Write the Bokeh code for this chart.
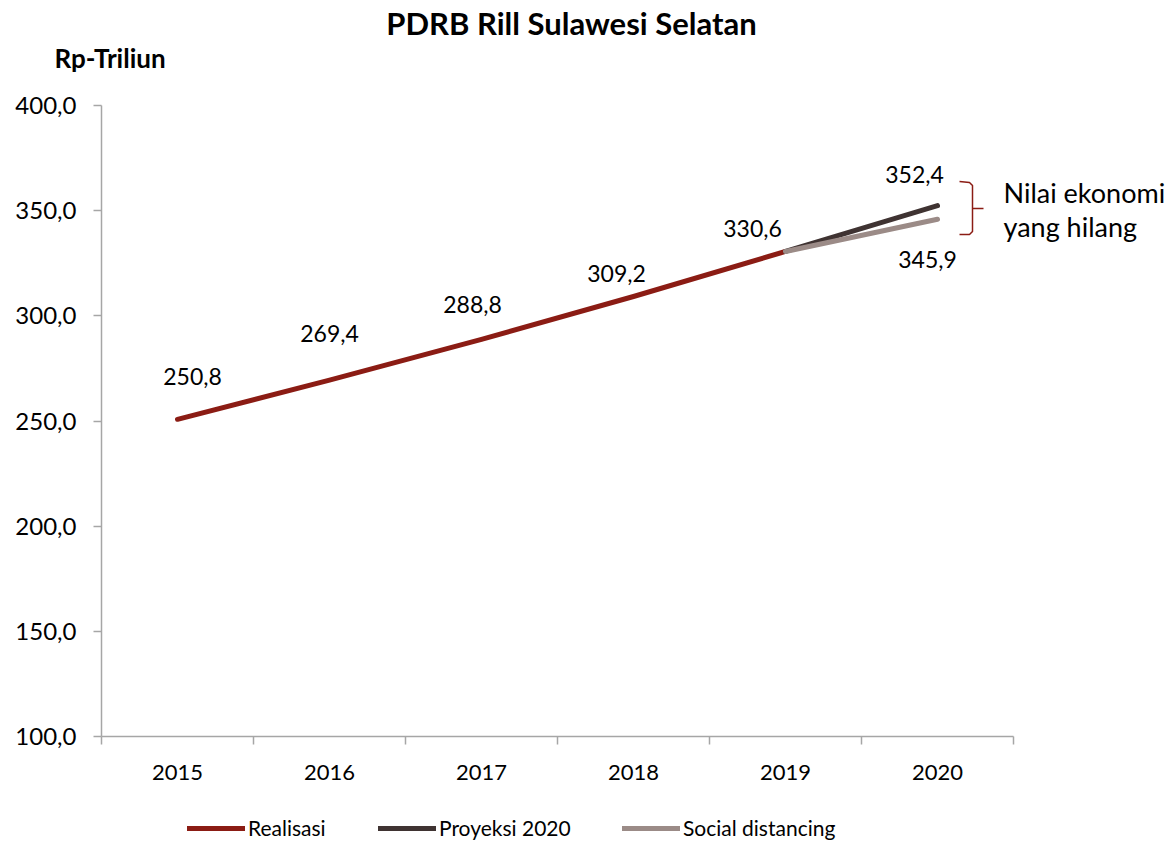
from bokeh.plotting import figure
from bokeh.models import Range1d, FixedTicker, Label, Legend, ColumnDataSource
from bokeh.core.properties import value
from bokeh.embed import file_html
from bokeh.resources import INLINE

# ---- data ----
years = ["2015", "2016", "2017", "2018", "2019", "2020"]
realisasi_years = ["2015", "2016", "2017", "2018", "2019"]
realisasi = [250.8, 269.4, 288.8, 309.2, 330.6]
proyeksi_years = ["2019", "2020"]
proyeksi = [330.6, 352.4]
social_years = ["2019", "2020"]
social = [330.6, 345.9]
y_ticks = [100, 150, 200, 250, 300, 350, 400]

# label offsets (pixels) for the value labels
label_dx = [15, 0, -9, -17, -33, -23, -10]
label_dy = [43, 47, 35, 23, 23, 31, -40]

FONT = "Lato"
C_REAL = "#8B1C14"
C_PROY = "#3F3332"
C_SOC = "#9B8B87"
AXIS_C = "#A6A6A6"

# ---- layout (pixels) ----
W, H = 1169, 842
FL, FR, FT, FB = 101, 1013, 105, 736
YMIN, YMAX = y_ticks[0], y_ticks[-1]
n = len(years)
sx = (FR - FL) / n
sy = (FB - FT) / (YMAX - YMIN)


def px2x(px):
    return (px - FL) / sx


def px2y(py):
    return YMAX + (FT - py) / sy


xpos = {y: i + 0.5 for i, y in enumerate(years)}

p = figure(width=W, height=H, min_border=0,
           x_range=Range1d(px2x(0), px2x(W)), y_range=Range1d(px2y(H), px2y(0)),
           output_backend="svg", toolbar_location=None,
           background_fill_color="white", border_fill_color="white")
p.outline_line_color = None
p.grid.visible = False
p.title.visible = False

# lines
r_real = p.line([xpos[y] for y in realisasi_years], realisasi, line_color=C_REAL,
                line_width=5, line_cap="round", line_join="round")
r_proy = p.line([xpos[y] for y in proyeksi_years], proyeksi, line_color=C_PROY,
                line_width=5, line_cap="round", line_join="round")
r_soc = p.line([xpos[y] for y in social_years], social, line_color=C_SOC,
               line_width=5, line_cap="round", line_join="round")

# value labels
lx = [xpos[y] for y in realisasi_years] + [xpos[proyeksi_years[-1]], xpos[social_years[-1]]]
ly = realisasi + [proyeksi[-1], social[-1]]
lt = [f"{v:.1f}".replace(".", ",") for v in ly]
src = ColumnDataSource(dict(x=lx, y=ly, t=lt, dx=label_dx, dy=[-d for d in label_dy]))
p.text(x="x", y="y", text="t", x_offset="dx", y_offset="dy", source=src,
       text_align="center", text_baseline="middle", text_color="black",
       text_font=value(FONT), text_font_size=value("23px"))

# axes (fixed at the plot-area edges)
xa = p.xaxis[0]
xa.fixed_location = YMIN
xa.bounds = (0, n)
xa.ticker = FixedTicker(ticks=[xpos[y] for y in years], minor_ticks=list(range(n + 1)))
xa.major_label_overrides = {xpos[y]: y for y in years}
xa.major_tick_out = 0
xa.major_tick_in = 0
xa.minor_tick_out = 8
xa.minor_tick_in = 0
xa.minor_tick_line_color = AXIS_C
xa.minor_tick_line_width = 1.5
xa.axis_line_color = AXIS_C
xa.axis_line_width = 1.5
xa.major_label_standoff = 20
xa.major_label_text_font = FONT
xa.major_label_text_font_size = "22px"
xa.major_label_text_color = "black"

ya = p.yaxis[0]
ya.fixed_location = 0
ya.bounds = (YMIN, YMAX)
ya.ticker = FixedTicker(ticks=y_ticks, minor_ticks=[])
ya.major_label_overrides = {t: f"{t:.1f}".replace(".", ",") for t in y_ticks}
ya.major_tick_out = 8
ya.major_tick_in = 0
ya.major_tick_line_color = AXIS_C
ya.major_tick_line_width = 1.5
ya.axis_line_color = AXIS_C
ya.axis_line_width = 1.5
ya.minor_tick_line_color = None
ya.major_label_standoff = 17
ya.major_label_text_font = FONT
ya.major_label_text_font_size = "24px"
ya.major_label_text_color = "black"

# title & unit label
p.add_layout(Label(x=px2x(571), y=px2y(22), text="PDRB Rill Sulawesi Selatan", text_align="center",
                   text_baseline="middle", text_font=FONT, text_font_size="31px",
                   text_font_style="bold", text_color="black"))
p.add_layout(Label(x=px2x(54), y=px2y(57), text="Rp-Triliun", text_align="left",
                   text_baseline="middle", text_font=FONT, text_font_size="26px",
                   text_font_style="bold", text_color="black"))

# bracket
bx = [px2x(v) for v in [959, 969, 972, 972, 972, 972, 969, 959]]
by = [px2y(v) for v in [181, 182, 185, 206, 210, 231, 234, 234]]
p.line(bx, by, line_color=C_REAL, line_width=1.5)
p.line([px2x(972), px2x(983)], [px2y(208), px2y(208)], line_color=C_REAL, line_width=1.5)

p.add_layout(Label(x=px2x(1003), y=px2y(192), text="Nilai ekonomi", text_align="left",
                   text_baseline="middle", text_font=FONT, text_font_size="27px",
                   text_color="black"))
p.add_layout(Label(x=px2x(1003), y=px2y(226), text="yang hilang", text_align="left",
                   text_baseline="middle", text_font=FONT, text_font_size="27px",
                   text_color="black"))

# legend: one entry per legend, placed at the reference positions
leg_items = [("Realisasi", r_real, 187), ("Proyeksi 2020", r_proy, 378),
             ("Social distancing", r_soc, 622)]
for name, rend, left in leg_items:
    lg = Legend(items=[(name, [rend])], location=(left, H - 828 - 12),
                glyph_width=58, glyph_height=24, label_standoff=3,
                padding=0, margin=0, border_line_color=None,
                background_fill_alpha=0, label_text_font=FONT,
                label_text_font_size="21px", label_text_color="black")
    p.add_layout(lg)

open("out.html", "w").write(file_html(p, INLINE))
